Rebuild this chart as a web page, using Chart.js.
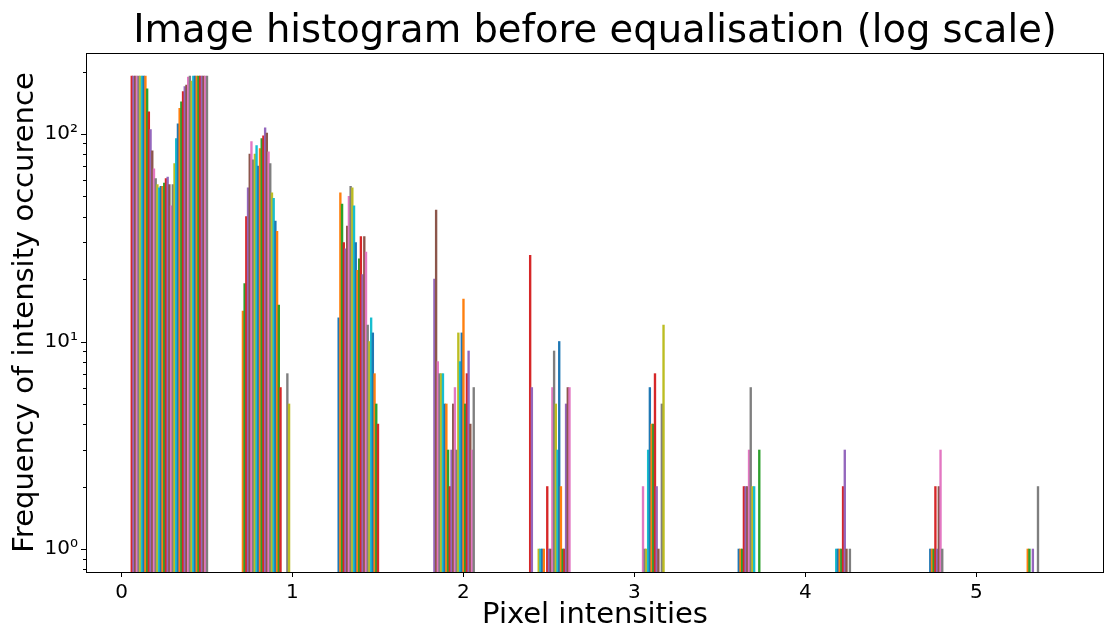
<!DOCTYPE html>
<html>
<head>
<meta charset="utf-8">
<script src="https://cdn.jsdelivr.net/npm/chart.js@4.4.1/dist/chart.umd.min.js"></script>
<style>
  html, body { margin: 0; padding: 0; background: #fff; }
</style>
</head>
<body>
<canvas id="hist" width="1105" height="630"></canvas>
<script>
// ── histogram data ───────────────────────────────
// every cluster = first slot centre + heights, one slot per BIN (null = empty)
const BIN = 0.01;

const c1Start = 0.06;
const c1 = [190, 190, 190, 190, 190, 190, 190, 190, 190, 165, 128, 105, 83, 68, 61, 57,
            55, 56, 56, 58, 61, 62, 57, 45, 57, 72, 95, 112, 133, 143, 160, 169, 172, 188,
            190, 180, 190, 190, 190, 190, 190, 190, 190, 190, 190];

const c2Start = 0.71;
const c2 = [14, 19, 40, 55, 80, 92, 75, 80, 88, 70, 85, 95, 98, 107, 101, 82, 72, 52, 49,
            38, 34, 15, 6, null, null, null, 7, 5];

const c3Start = 1.27;
const c3 = [13, 52, 46, 30, 28, 36, 50, 56, 55, 45, 30, 22, 25, 32, 21, 32, 27, 12, 10, 13,
            11, 7, 5, 4];

const c4Start = 1.83;
const c4 = [20, 43, 8, 7, 7, 7, 5, 5, 3, 2, 3, 5, 6, 3, 11, 8, 11, 16, 5, 7, 9, 4, 3, 6];

const c5Start = 2.39;
const c5 = [26, 6, null, null, null, 1, 1, 1, 1, null, 2, 1, 1, 6, 9, 5, 3, 10, 2, 1, 1, 5,
            6, 6];

const c6Start = 3.05;
const c6 = [2, 1, 1, 3, 6, 4, 4, 7, 2, 1, null, 5, 12];

const c7Start = 3.61;
const c7 = [1, 1, 1, 2, 2, 2, 3, 6, 2, 2, null, null, 3];

const c8Start = 4.18;
const c8 = [1, 1, 1, 1, 2, 3, 1, null, 1];

const c9Start = 4.73;
const c9 = [1, 1, 1, 2, 1, 2, 3, 1];

const c10Start = 5.30;
const c10 = [1, 1, null, 1, null, null, 2];

// axis ticks
const xTicks = [0, 1, 2, 3, 4, 5];
const yMajor = [1, 10, 100];
const yMinor = [0.8, 0.9, 2, 3, 4, 5, 6, 7, 8, 9, 20, 30, 40, 50, 60, 70, 80, 90, 200];
const yLabels = ['10\u2070', '10\u00B9', '10\u00B2'];

// matplotlib tab10 cycle, and where the cycle starts in each cluster
const TAB10 = ['#1f77b4', '#ff7f0e', '#2ca02c', '#d62728', '#9467bd',
               '#8c564b', '#e377c2', '#7f7f7f', '#bcbd22', '#17becf'];
const colorShift = [3, 1, 0, 4, 3, 6, 0, 9, 0, 1];

const clusters = [[c1Start, c1], [c2Start, c2], [c3Start, c3], [c4Start, c4], [c5Start, c5],
                  [c6Start, c6], [c7Start, c7], [c8Start, c8], [c9Start, c9], [c10Start, c10]];

const points = [];
const colors = [];
clusters.forEach(([start, heights], k) => {
  heights.forEach((h, i) => {
    if (h === null) return;
    points.push({ x: +(start + i * BIN).toFixed(3), y: h });
    colors.push(TAB10[(i + colorShift[k]) % 10]);
  });
});

const FONT = 'DejaVu Sans';

// box around the axes + matplotlib style tick marks
const axesFrame = {
  id: 'axesFrame',
  afterDraw(chart) {
    const { ctx, chartArea: a, scales: { x, y } } = chart;
    ctx.save();
    ctx.strokeStyle = '#000';
    ctx.lineWidth = 1;
    ctx.beginPath();
    xTicks.forEach(v => {
      const px = Math.round(x.getPixelForValue(v)) + 0.5;
      ctx.moveTo(px, a.bottom); ctx.lineTo(px, a.bottom + 5);
    });
    yMajor.forEach(v => {
      const py = Math.round(y.getPixelForValue(v)) + 0.5;
      ctx.moveTo(a.left, py); ctx.lineTo(a.left - 5, py);
    });
    yMinor.forEach(v => {
      const py = Math.round(y.getPixelForValue(v)) + 0.5;
      ctx.moveTo(a.left, py); ctx.lineTo(a.left - 3, py);
    });
    ctx.stroke();
    ctx.strokeRect(Math.round(a.left) + 0.5, Math.round(a.top) + 0.5,
                   Math.round(a.right - a.left) - 1, Math.round(a.bottom - a.top));
    ctx.restore();
  }
};

new Chart(document.getElementById('hist'), {
  type: 'bar',
  data: {
    datasets: [{
      data: points,
      backgroundColor: colors,
      borderWidth: 0,
      categoryPercentage: 1,
      barPercentage: 1
    }]
  },
  options: {
    responsive: false,
    animation: false,
    devicePixelRatio: 1,
    layout: { padding: { left: 0, right: 1, top: 0, bottom: 0 } },
    plugins: {
      legend: { display: false },
      tooltip: { enabled: false },
      title: {
        display: true,
        fullSize: false,
        text: 'Image histogram before equalisation (log scale)',
        color: '#000',
        font: { family: FONT, size: 38.5, weight: 'normal', lineHeight: 1 },
        padding: { top: 13, bottom: 1.5 }
      }
    },
    scales: {
      x: {
        type: 'linear',
        offset: false,
        min: -0.2076,
        max: 5.746,
        grid: { display: false, drawTicks: false },
        border: { display: false },
        afterBuildTicks: s => { s.ticks = xTicks.map(v => ({ value: v })); },
        afterFit: s => { s.height = 58; },
        ticks: {
          autoSkip: false,
          maxRotation: 0,
          padding: 9,
          color: '#000',
          font: { family: FONT, size: 20 },
          callback: v => String(v)
        },
        title: {
          display: true,
          text: 'Pixel intensities',
          color: '#000',
          font: { family: FONT, size: 29, lineHeight: 1 },
          padding: { top: 0, bottom: 0 }
        }
      },
      y: {
        type: 'logarithmic',
        min: 0.775,
        max: 245.6,
        grid: { display: false, drawTicks: false },
        border: { display: false },
        afterBuildTicks: s => { s.ticks = yMajor.map(v => ({ value: v })); },
        afterFit: s => { s.width = 86; },
        ticks: {
          autoSkip: false,
          padding: 8,
          color: '#000',
          font: { family: FONT, size: 20 },
          callback: v => yLabels[yMajor.indexOf(v)] || ''
        },
        title: {
          display: true,
          text: 'Frequency of intensity occurence',
          color: '#000',
          font: { family: FONT, size: 29, lineHeight: 1 },
          padding: { top: 11, bottom: 0 }
        }
      }
    }
  },
  plugins: [axesFrame]
});
</script>
</body>
</html>
